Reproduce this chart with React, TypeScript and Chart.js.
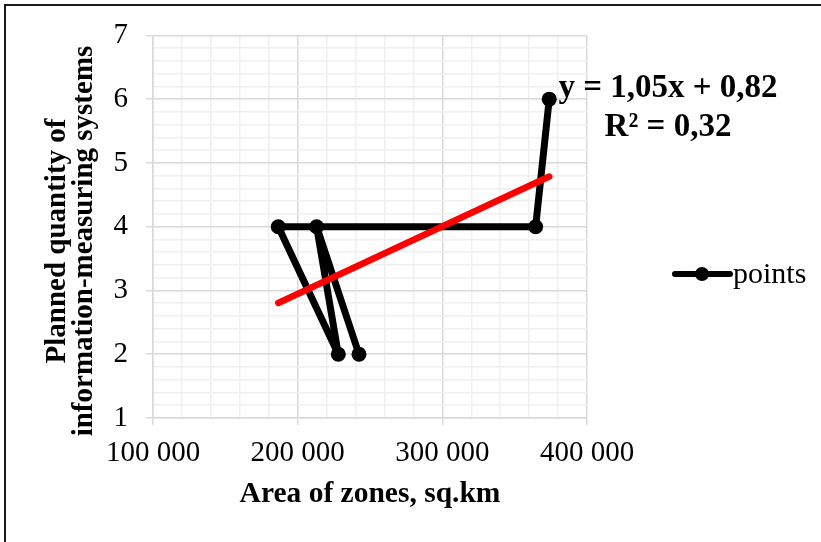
import React, { useEffect, useRef } from "react";
import { Chart, registerables } from "chart.js";

Chart.register(...registerables);

// ---- data ----
const areaKm2: number[] = [242400, 213100, 228100, 186600, 364500, 373900];
const plannedQty: number[] = [2, 4, 2, 4, 4, 6];
const seriesName = "points";
const xTitle = "Area of zones, sq.km";
const yTitleLines = ["Planned quantity of", "information-measuring systems"];
const equationLines = ["y = 1,05x + 0,82", "R\u00B2 = 0,32"];
const xMajorTicks = [100000, 200000, 300000, 400000];
const yMajorTicks = [1, 2, 3, 4, 5, 6, 7];

// linear regression trend line from the data
function trend(xs: number[], ys: number[]) {
  const n = xs.length;
  const mx = xs.reduce((a, b) => a + b, 0) / n;
  const my = ys.reduce((a, b) => a + b, 0) / n;
  let sxy = 0, sxx = 0;
  for (let i = 0; i < n; i++) {
    sxy += (xs[i] - mx) * (ys[i] - my);
    sxx += (xs[i] - mx) * (xs[i] - mx);
  }
  const b = sxy / sxx;
  const a = my - b * mx;
  const x0 = Math.min(...xs);
  const x1 = Math.max(...xs);
  return [
    { x: x0, y: a + b * x0 },
    { x: x1, y: a + b * x1 },
  ];
}

const SERIF = "'Liberation Serif', 'Times New Roman', serif";

const isMajorX = (v: number) => xMajorTicks.some((t) => Math.abs(t - v) < 1);
const isMajorY = (v: number) => yMajorTicks.some((t) => Math.abs(t - v) < 1e-6);

const annotationPlugin = {
  id: "annotations",
  beforeDraw(chart: any) {
    const ctx = chart.ctx;
    ctx.save();
    ctx.fillStyle = "#ffffff";
    ctx.fillRect(0, 0, chart.width, chart.height);
    ctx.strokeStyle = "#1a1a1a";
    ctx.lineWidth = 2;
    ctx.beginPath();
    ctx.moveTo(5, chart.height);
    ctx.lineTo(5, 5);
    ctx.lineTo(chart.width, 5);
    ctx.stroke();
    ctx.restore();
  },
  afterDraw(chart: any) {
    const ctx = chart.ctx;
    const area = chart.chartArea;
    ctx.save();
    ctx.fillStyle = "#000000";
    // x title
    ctx.font = `bold 29.5px ${SERIF}`;
    ctx.textAlign = "center";
    ctx.textBaseline = "alphabetic";
    ctx.fillText(xTitle, (area.left + area.right) / 2, 502);
    // y title (rotated)
    ctx.font = `bold 29px ${SERIF}`;
    const yBaselines = [65, 92];
    yTitleLines.forEach((line, i) => {
      ctx.save();
      ctx.translate(yBaselines[i], 241);
      ctx.rotate(-Math.PI / 2);
      ctx.fillText(line, 0, 0);
      ctx.restore();
    });
    // equation
    ctx.font = `bold 33px ${SERIF}`;
    ctx.fillText(equationLines[0], 668, 97);
    ctx.fillText(equationLines[1], 668, 136);
    // legend
    ctx.strokeStyle = "#000000";
    ctx.lineWidth = 6;
    ctx.lineCap = "round";
    ctx.beginPath();
    ctx.moveTo(675, 274);
    ctx.lineTo(730, 274);
    ctx.stroke();
    ctx.beginPath();
    ctx.arc(702, 274, 7, 0, Math.PI * 2);
    ctx.fill();
    ctx.font = `30px ${SERIF}`;
    ctx.textAlign = "left";
    ctx.fillText(seriesName, 733, 283);
    ctx.restore();
  },
};

export default function App() {
  const canvasRef = useRef<HTMLCanvasElement | null>(null);

  useEffect(() => {
    if (!canvasRef.current) return;
    const pts = areaKm2.map((x, i) => ({ x, y: plannedQty[i] }));
    const chart = new Chart(canvasRef.current, {
      type: "scatter",
      data: {
        datasets: [
          {
            label: "trend",
            data: trend(areaKm2, plannedQty),
            showLine: true,
            borderColor: "#ff0000",
            borderWidth: 6.5,
            borderCapStyle: "round",
            pointRadius: 0,
            order: 0,
          },
          {
            label: seriesName,
            data: pts,
            showLine: true,
            borderColor: "#000000",
            backgroundColor: "#000000",
            borderWidth: 7,
            borderJoinStyle: "round",
            pointRadius: 7.5,
            pointBorderWidth: 0,
            order: 1,
          },
        ],
      },
      options: {
        animation: false,
        responsive: false,
        layout: { padding: { left: 0, right: 234, top: 34, bottom: 0 } },
        plugins: {
          legend: { display: false },
          tooltip: { enabled: false },
        },
        scales: {
          x: {
            type: "linear",
            min: 100000,
            max: 400000,
            afterFit: (s: any) => {
              s.height = 124;
            },
            afterBuildTicks: (s: any) => {
              const t: any[] = [];
              for (let v = 100000; v <= 400000; v += 20000) t.push({ value: v });
              s.ticks = t;
            },
            ticks: {
              autoSkip: false,
              maxRotation: 0,
              padding: 11,
              color: "#000000",
              font: { family: SERIF, size: 29 },
              callback: (v: any) =>
                isMajorX(Number(v)) ? `${Math.round(Number(v) / 1000)} 000` : "",
            },
            grid: {
              color: (c: any) => (isMajorX(c.tick.value) ? "#d9d9d9" : "#f0f0f0"),
              tickColor: (c: any) =>
                isMajorX(c.tick.value) ? "#d9d9d9" : "rgba(0,0,0,0)",
              tickLength: 7,
              lineWidth: 1.5,
            },
            border: { color: "#d9d9d9", width: 1.5 },
          },
          y: {
            type: "linear",
            min: 1,
            max: 7,
            afterFit: (s: any) => {
              s.width = 153;
            },
            afterBuildTicks: (s: any) => {
              const t: any[] = [];
              for (let i = 0; i <= 30; i++) t.push({ value: Math.round((1 + i * 0.2) * 10) / 10 });
              s.ticks = t;
            },
            ticks: {
              autoSkip: false,
              padding: 18,
              color: "#000000",
              font: { family: SERIF, size: 29 },
              callback: (v: any) => (isMajorY(Number(v)) ? String(Math.round(Number(v))) : ""),
            },
            grid: {
              color: (c: any) => (isMajorY(c.tick.value) ? "#d9d9d9" : "#f0f0f0"),
              tickColor: (c: any) =>
                isMajorY(c.tick.value) ? "#d9d9d9" : "rgba(0,0,0,0)",
              tickLength: 7,
              lineWidth: 1.5,
            },
            border: { color: "#d9d9d9", width: 1.5 },
          },
        },
      },
      plugins: [annotationPlugin],
    });
    return () => chart.destroy();
  }, []);

  return (
    <div style={{ position: "fixed", left: 0, top: 0, width: 821, height: 542, background: "#fff" }}>
      <canvas ref={canvasRef} width={821} height={542} style={{ width: 821, height: 542, display: "block" }} />
    </div>
  );
}
